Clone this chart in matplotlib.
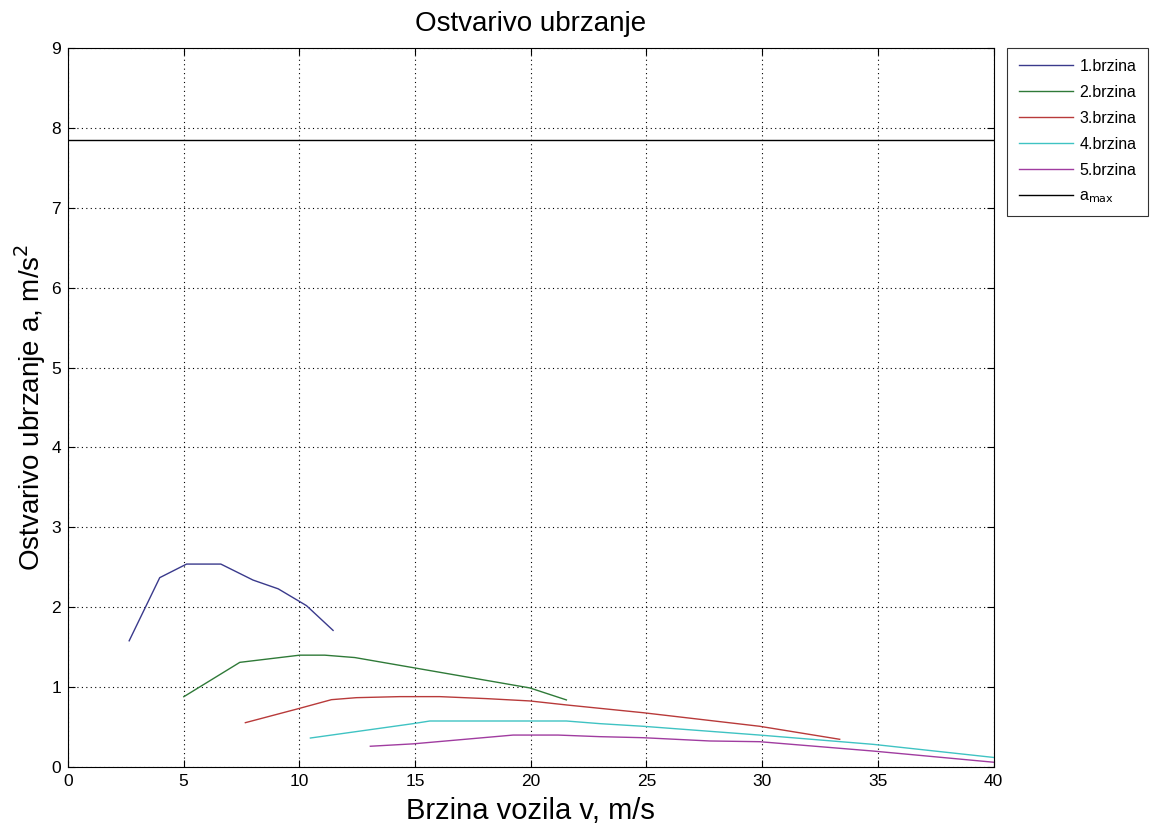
import matplotlib
matplotlib.use("Agg")
import matplotlib.pyplot as plt

plt.rcParams["font.family"] = ["Liberation Sans", "DejaVu Sans"]

# brzina vozila v [m/s] i ostvarivo ubrzanje a [m/s^2] po stupnju prijenosa
v1 = [2.65, 3.97, 5.13, 6.61, 8.0, 9.09, 10.31, 11.46]
a1 = [1.58, 2.37, 2.54, 2.54, 2.34, 2.23, 2.02, 1.71]

v2 = [5.01, 7.43, 10.02, 11.1, 12.4, 14.99, 19.96, 21.54]
a2 = [0.88, 1.31, 1.40, 1.40, 1.37, 1.24, 0.99, 0.84]

v3 = [7.67, 10.02, 11.39, 12.47, 14.34, 16.07, 18.09, 19.96, 21.54, 24.85, 29.89, 33.35]
a3 = [0.555, 0.735, 0.843, 0.868, 0.881, 0.881, 0.856, 0.827, 0.777, 0.68, 0.51, 0.347]

v4 = [10.48, 14.92, 15.64, 21.54, 22.98, 24.85, 29.89, 34.79, 40.0]
a4 = [0.363, 0.543, 0.576, 0.576, 0.543, 0.51, 0.40, 0.284, 0.12]

v5 = [13.07, 14.92, 19.24, 21.18, 22.98, 24.85, 27.73, 29.89, 34.79, 40.0]
a5 = [0.26, 0.29, 0.40, 0.40, 0.38, 0.367, 0.326, 0.317, 0.20, 0.06]

a_max = 7.85
labels = ["1.brzina", "2.brzina", "3.brzina", "4.brzina", "5.brzina", r"a$_{\mathrm{max}}$"]

fig = plt.figure(figsize=(11.5, 8.26), dpi=100)
ax = fig.add_axes([0.059, 0.0714, 0.805, 0.8706])

ax.plot(v1, a1, color="#3a3a8c", lw=1.0, label=labels[0])
ax.plot(v2, a2, color="#2f7a38", lw=1.0, label=labels[1])
ax.plot(v3, a3, color="#b83a3a", lw=1.0, label=labels[2])
ax.plot(v4, a4, color="#3fc3c3", lw=1.0, label=labels[3])
ax.plot(v5, a5, color="#a03ca0", lw=1.0, label=labels[4])
ax.plot([0, 40], [a_max, a_max], color="black", lw=1.0, label=labels[5])

ax.set_xlim(0, 40)
ax.set_ylim(0, 9)
ax.set_xticks(range(0, 41, 5))
ax.set_yticks(range(0, 10))
ax.grid(True, linestyle=(0, (1, 3)), color="black", lw=0.8)
ax.tick_params(direction="in", top=True, right=True, labelsize=12.5, length=5, pad=5)

ax.set_title("Ostvarivo ubrzanje", fontsize=20, pad=12)
ax.set_xlabel("Brzina vozila v, m/s", fontsize=21, labelpad=6)
ax.set_ylabel(r"Ostvarivo ubrzanje a, m/s$^2$", fontsize=20, labelpad=2)

leg = ax.legend(loc="upper left", bbox_to_anchor=(1.015, 1.0), fontsize=11.5,
                frameon=True, fancybox=False, edgecolor="black",
                handlelength=3.4, handletextpad=0.4, borderpad=0.7,
                borderaxespad=0.0, labelspacing=0.68)
leg.get_frame().set_linewidth(0.8)

fig.savefig("out.png", dpi=100)
